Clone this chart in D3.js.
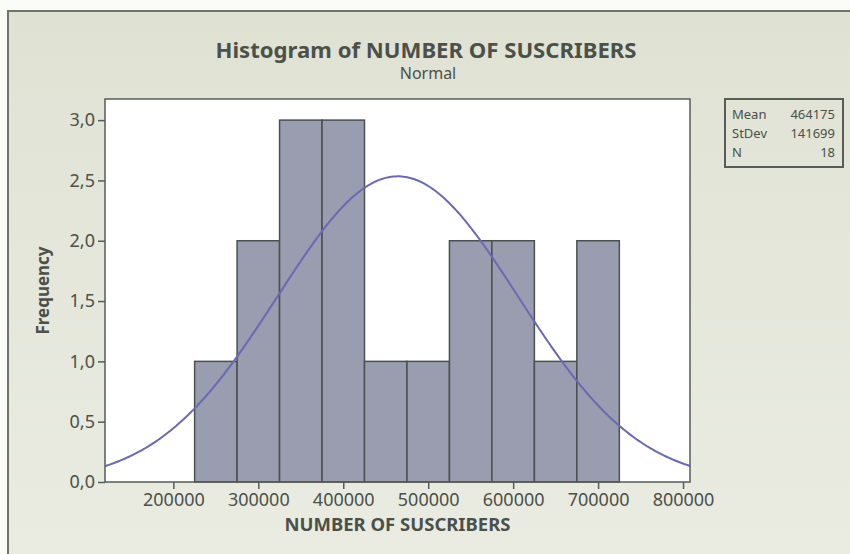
<!DOCTYPE html>
<html>
<head>
<meta charset="utf-8">
<script src="https://cdn.jsdelivr.net/npm/d3@7/dist/d3.min.js"></script>
<style>
  html, body { margin: 0; padding: 0; background: #fbfbf8; }
  svg { display: block; }
  text { font-family: "Noto Sans", "DejaVu Sans", sans-serif; fill: #4b5049; }
</style>
</head>
<body>
<svg id="chart" width="850" height="554"></svg>
<script>
// Histogram bins (lower edge, upper edge) and counts
const binStarts = [225000, 275000, 325000, 375000, 425000, 475000, 525000, 575000, 625000, 675000];
const binEnds   = [275000, 325000, 375000, 425000, 475000, 525000, 575000, 625000, 675000, 725000];
const counts    = [1, 2, 3, 3, 1, 1, 2, 2, 1, 2];

// Summary statistics for the fitted normal curve
const statLabels = ["Mean", "StDev", "N"];
const statValues = [464175, 141699, 18];

const xTicks = [200000, 300000, 400000, 500000, 600000, 700000, 800000];
const yTicks = [0, 0.5, 1.0, 1.5, 2.0, 2.5, 3.0];

const svg = d3.select("#chart");
const W = 850, H = 554;

// Panel background with frame
const defs = svg.append("defs");
const grad = defs.append("linearGradient").attr("id", "bg").attr("x1", 0).attr("y1", 0).attr("x2", 0).attr("y2", 1);
grad.append("stop").attr("offset", "0%").attr("stop-color", "#dfe2d3");
grad.append("stop").attr("offset", "100%").attr("stop-color", "#eaece2");

svg.append("rect").attr("x", 8).attr("y", 11).attr("width", W).attr("height", H)
  .attr("fill", "url(#bg)").attr("stroke", "#6e736e").attr("stroke-width", 2);

const plot = { left: 105, right: 690, top: 99, bottom: 482 };

const x = d3.scaleLinear().domain([119500, 808200]).range([plot.left, plot.right]);
const y = d3.scaleLinear().domain([0, 3.175]).range([plot.bottom, plot.top]);

// Plot area
svg.append("rect").attr("x", plot.left).attr("y", plot.top)
  .attr("width", plot.right - plot.left).attr("height", plot.bottom - plot.top)
  .attr("fill", "#ffffff");

// Bars
const bins = counts.map((c, i) => ({ x0: binStarts[i], x1: binEnds[i], n: c }));
svg.append("g").selectAll("rect").data(bins).join("rect")
  .attr("x", d => x(d.x0))
  .attr("y", d => y(d.n))
  .attr("width", d => x(d.x1) - x(d.x0))
  .attr("height", d => y(0) - y(d.n))
  .attr("fill", "#9a9caf")
  .attr("stroke", "#4b5050")
  .attr("stroke-width", 1.5);

// Fitted normal curve scaled to counts: N * binWidth * pdf
const mean = statValues[0], sd = statValues[1], n = statValues[2];
const binWidth = binEnds[0] - binStarts[0];
const [dx0, dx1] = x.domain();
const curvePts = d3.range(0, 301).map(i => {
  const v = dx0 + (dx1 - dx0) * i / 300;
  const z = (v - mean) / sd;
  return [v, n * binWidth * Math.exp(-0.5 * z * z) / (sd * Math.sqrt(2 * Math.PI))];
});
svg.append("path").datum(curvePts)
  .attr("fill", "none").attr("stroke", "#6b69b2").attr("stroke-width", 2)
  .attr("d", d3.line().x(d => x(d[0])).y(d => y(d[1])));

// Plot frame
svg.append("rect").attr("x", plot.left).attr("y", plot.top)
  .attr("width", plot.right - plot.left).attr("height", plot.bottom - plot.top)
  .attr("fill", "none").attr("stroke", "#575c58").attr("stroke-width", 1.5);

// Axes
const comma = d3.formatLocale({ decimal: ",", thousands: ".", grouping: [3], currency: ["", ""] });
const yAxis = d3.axisLeft(y).tickValues(yTicks).tickFormat(comma.format(".1f")).tickSize(7).tickPadding(3);
const xAxis = d3.axisBottom(x).tickValues(xTicks).tickFormat(d3.format("d")).tickSize(7).tickPadding(4);

const gy = svg.append("g").attr("transform", `translate(${plot.left},0)`).call(yAxis);
const gx = svg.append("g").attr("transform", `translate(0,${plot.bottom})`).call(xAxis);
[gx, gy].forEach(g => {
  g.select(".domain").remove();
  g.selectAll(".tick line").attr("stroke", "#575c58").attr("stroke-width", 1.5);
  g.selectAll(".tick text").attr("font-size", 18).attr("fill", "#4b5049")
    .attr("font-family", "'Noto Sans', sans-serif");
});

// Titles
svg.append("text").attr("x", 426).attr("y", 58).attr("text-anchor", "middle")
  .attr("font-size", 22).attr("font-weight", "bold")
  .attr("textLength", 421).attr("lengthAdjust", "spacingAndGlyphs")
  .text("Histogram of NUMBER OF SUSCRIBERS");
svg.append("text").attr("x", 428).attr("y", 79).attr("text-anchor", "middle")
  .attr("font-size", 16)
  .text("Normal");

svg.append("text").attr("x", (plot.left + plot.right) / 2).attr("y", 531).attr("text-anchor", "middle")
  .attr("font-size", 17).attr("font-weight", "bold")
  .attr("textLength", 226).attr("lengthAdjust", "spacingAndGlyphs")
  .text("NUMBER OF SUSCRIBERS");

svg.append("text")
  .attr("transform", `translate(49,${(plot.top + plot.bottom) / 2}) rotate(-90)`)
  .attr("text-anchor", "middle")
  .attr("font-size", 17).attr("font-weight", "bold")
  .attr("textLength", 88).attr("lengthAdjust", "spacingAndGlyphs")
  .text("Frequency");

// Statistics box
const box = { x: 725, y: 99, w: 118, h: 68 };
svg.append("rect").attr("x", box.x).attr("y", box.y).attr("width", box.w).attr("height", box.h)
  .attr("fill", "none").attr("stroke", "#575c58").attr("stroke-width", 2);
const rows = svg.append("g").selectAll("g").data(statLabels).join("g");
rows.append("text").attr("x", box.x + 7).attr("y", (d, i) => box.y + 20 + i * 19)
  .attr("font-size", 13).text(d => d);
rows.append("text").attr("x", box.x + box.w - 8).attr("y", (d, i) => box.y + 20 + i * 19)
  .attr("text-anchor", "end").attr("font-size", 13).text((d, i) => statValues[i]);
</script>
</body>
</html>
